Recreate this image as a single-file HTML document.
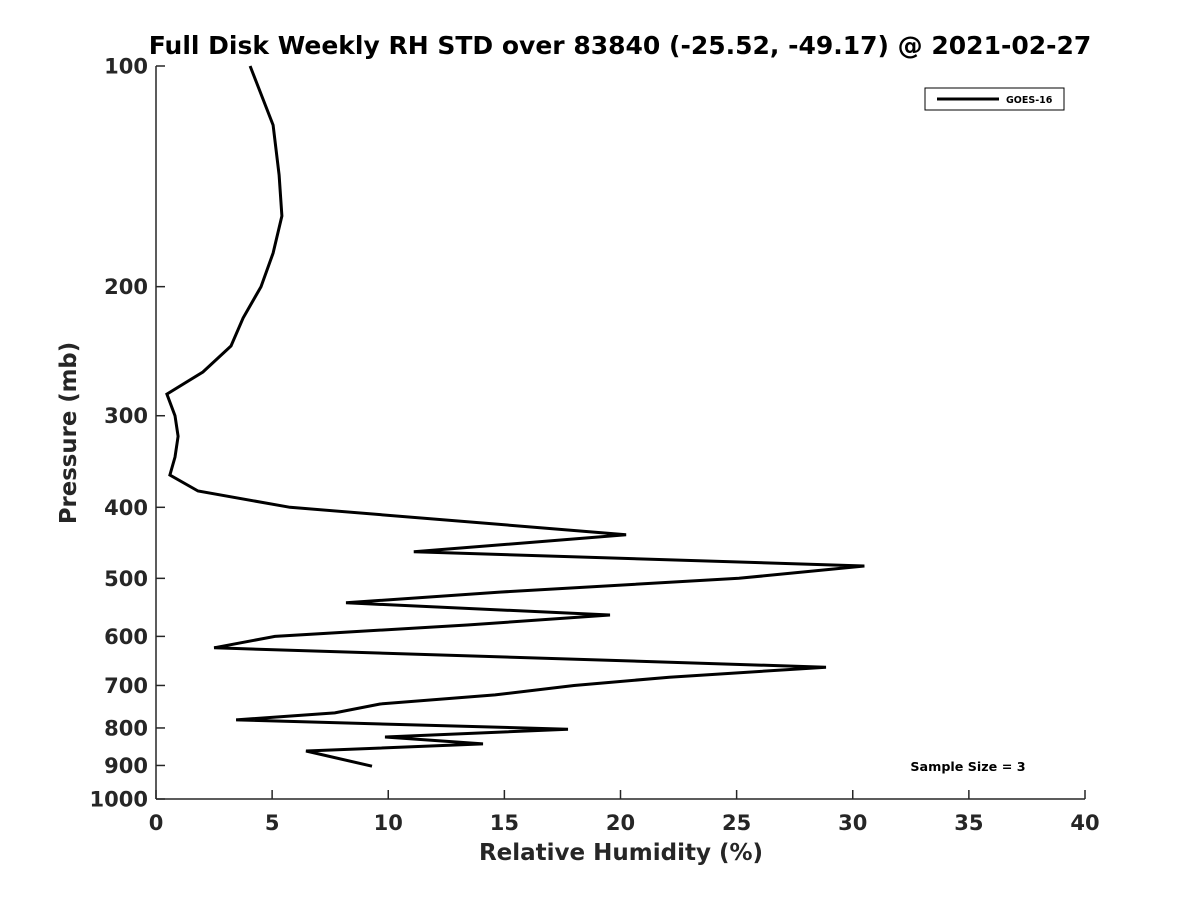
<!DOCTYPE html>
<html><head><meta charset="utf-8"><style>
body{margin:0;background:#fff;}
svg text{font-family:"DejaVu Sans","Liberation Sans",sans-serif;font-weight:bold;fill:#262626;}
</style></head><body>
<svg id="chart" width="1200" height="900">
<rect width="1200" height="900" fill="#fff"/>
<text x="620" y="54" font-size="25" text-anchor="middle" style="fill:#000">Full Disk Weekly RH STD over 83840 (-25.52, -49.17) @ 2021-02-27</text>
<g id="axes"></g>
<path id="line" fill="none" stroke="#000" stroke-width="3" stroke-linejoin="miter"/>
<g>
<rect x="925" y="88" width="139" height="22" fill="#fff" stroke="#000" stroke-width="1"/>
<line x1="937" y1="99" x2="999" y2="99" stroke="#000" stroke-width="3"/>
<text x="1006" y="103" font-size="9.5" style="fill:#000">GOES-16</text>
</g>
<text x="968" y="771" font-size="12.7" text-anchor="middle" style="fill:#000">Sample Size = 3</text>
<text x="621" y="860" font-size="23" text-anchor="middle">Relative Humidity (%)</text>
<text transform="translate(76,433) rotate(-90)" font-size="22.8" text-anchor="middle">Pressure (mb)</text>
</svg>
<script>
const pressures=[100,120.4,140.8,160.2,180,200,220.7,241,261.5,280.3,300,320,341.6,361.4,380,400,436,460,481,500,522,540,561,579,600,622,661,682,700,721,742,763,780,803,823,841,860,902];
const rhValues=[4.05,5.04,5.3,5.42,5.04,4.52,3.75,3.23,2.02,0.47,0.82,0.95,0.82,0.6,1.81,5.77,20.24,11.1,30.5,25.1,14.8,8.18,19.55,13.4,5.12,2.5,28.85,22.1,18.0,14.6,9.65,7.7,3.45,17.74,9.86,14.08,6.46,9.3];
const xTicks=[0,5,10,15,20,25,30,35,40];
const yTicks=[100,200,300,400,500,600,700,800,900,1000];
const X0=156,X1=1085,Y0=66,Y1=799;
const xs=v=>X0+(v/40)*(X1-X0);
const ys=p=>Y0+Math.log10(p/100)*(Y1-Y0);
const NS="http://www.w3.org/2000/svg";
const ax=document.getElementById('axes');
function mk(t,a){const e=document.createElementNS(NS,t);for(const k in a)e.setAttribute(k,a[k]);ax.appendChild(e);return e;}
let e=mk('line',{x1:X0,y1:Y0,x2:X0,y2:Y1,stroke:'#262626','stroke-width':1.5});


e=mk('line',{x1:X0,y1:Y1,x2:X1,y2:Y1,stroke:'#262626','stroke-width':1.5});


xTicks.forEach(v=>{const x=xs(v);
mk('line',{x1:x,y1:Y1,x2:x,y2:Y1-9,stroke:'#262626','stroke-width':1.5});
const t=mk('text',{x:x,y:830,'font-size':21,'text-anchor':'middle'});t.textContent=v;

});
yTicks.forEach(p=>{const y=ys(p);
mk('line',{x1:X0,y1:y,x2:X0+9,y2:y,stroke:'#262626','stroke-width':1.5});
const t=mk('text',{x:148,y:y+7.5,'font-size':21,'text-anchor':'end'});t.textContent=p;

});
document.getElementById('line').setAttribute('d',pressures.map((p,i)=>(i?'L':'M')+xs(rhValues[i]).toFixed(1)+','+ys(p).toFixed(1)).join(''));
</script>
</body></html>
